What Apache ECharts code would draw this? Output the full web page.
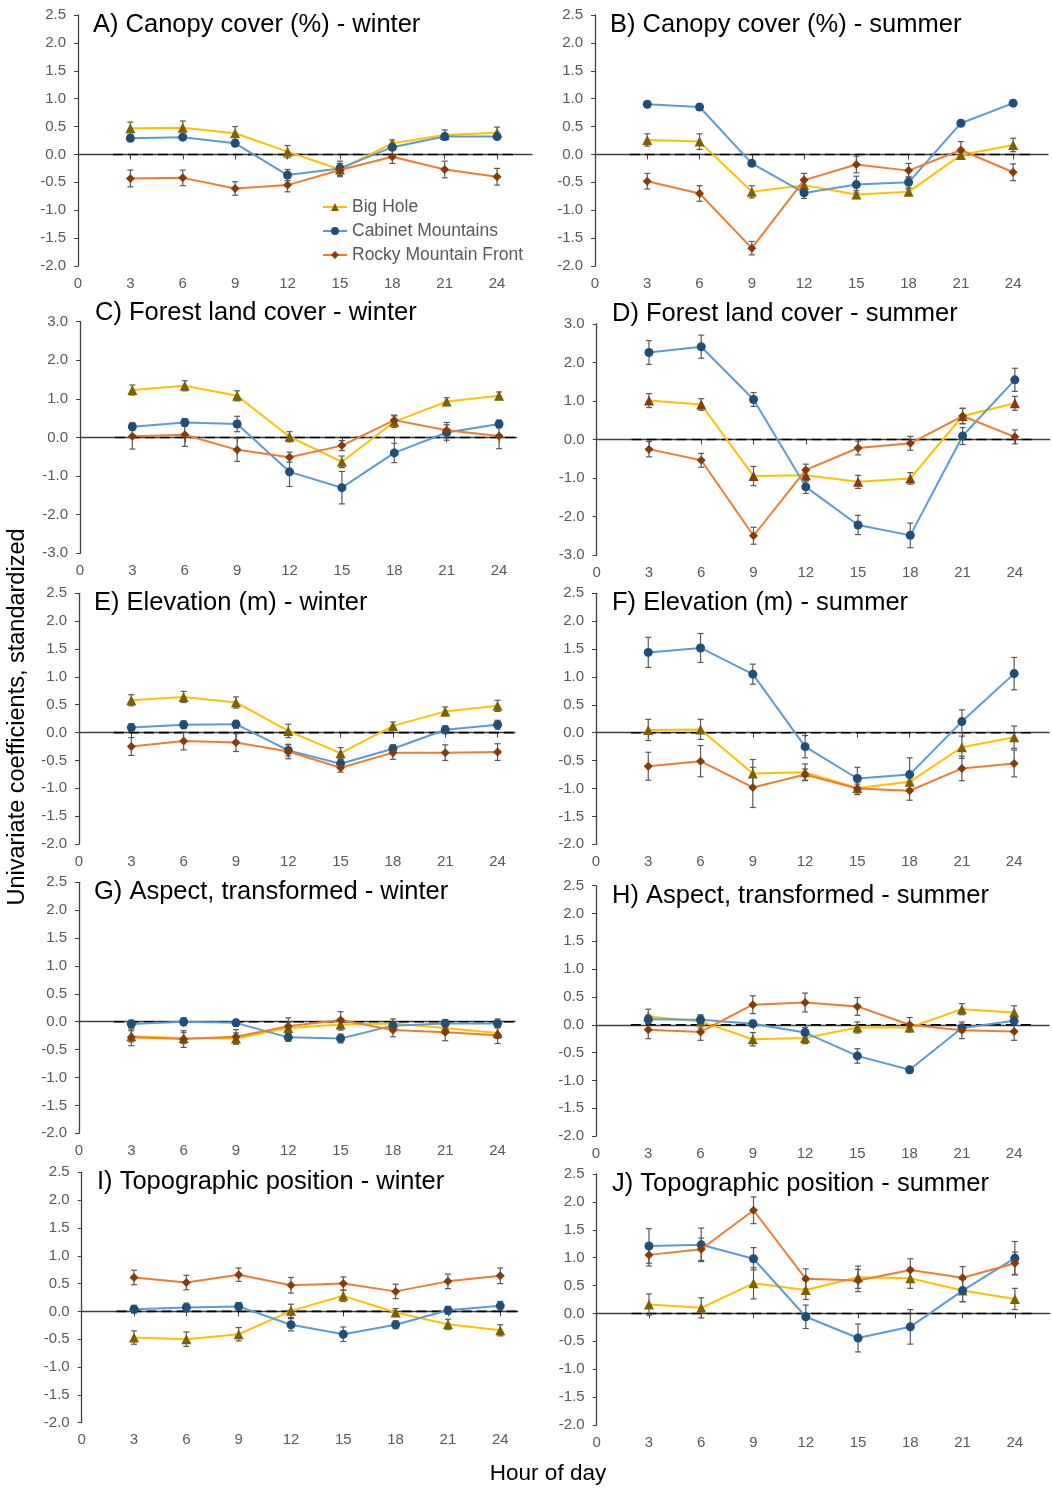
<!DOCTYPE html>
<html><head><meta charset="utf-8">
<script src="https://cdn.jsdelivr.net/npm/echarts@6/dist/echarts.min.js"></script>
<style>html,body{margin:0;padding:0;background:#fff}#c{width:1052px;height:1490px}</style>
</head><body><div id="c"></div>
<script>
// ---------- DATA ----------
const hours = [3, 6, 9, 12, 15, 18, 21, 24];
const xTickValues = [0, 3, 6, 9, 12, 15, 18, 21, 24];
const seriesNames = ['Big Hole', 'Cabinet Mountains', 'Rocky Mountain Front'];
const zeroLineFrom = 2, zeroLineTo = 25;

const A_bigHole = [0.47, 0.48, 0.38, 0.05, -0.27, 0.20, 0.35, 0.39];
const A_bigHoleErr = [0.11, 0.12, 0.12, 0.11, 0.10, 0.06, 0.09, 0.10];
const A_cabinet = [0.29, 0.31, 0.20, -0.37, -0.25, 0.13, 0.32, 0.32];
const A_cabinetErr = [0.05, 0.05, 0.05, 0.10, 0.13, 0.05, 0.05, 0.05];
const A_rocky = [-0.43, -0.42, -0.61, -0.55, -0.28, -0.04, -0.27, -0.40];
const A_rockyErr = [0.15, 0.14, 0.12, 0.12, 0.12, 0.12, 0.15, 0.15];

const B_bigHole = [0.26, 0.23, -0.67, -0.55, -0.72, -0.67, -0.01, 0.17];
const B_bigHoleErr = [0.11, 0.14, 0.11, 0.08, 0.07, 0.05, 0.05, 0.12];
const B_cabinet = [0.90, 0.85, -0.16, -0.69, -0.54, -0.50, 0.56, 0.92];
const B_cabinetErr = [0.05, 0.05, 0.05, 0.10, 0.15, 0.10, 0.05, 0.05];
const B_rocky = [-0.48, -0.70, -1.68, -0.46, -0.18, -0.29, 0.08, -0.32];
const B_rockyErr = [0.14, 0.14, 0.12, 0.12, 0.15, 0.13, 0.15, 0.15];

const C_bigHole = [1.23, 1.34, 1.08, 0.02, -0.63, 0.41, 0.93, 1.08];
const C_bigHoleErr = [0.13, 0.13, 0.13, 0.13, 0.15, 0.15, 0.10, 0.10];
const C_cabinet = [0.28, 0.39, 0.35, -0.89, -1.30, -0.40, 0.13, 0.35];
const C_cabinetErr = [0.10, 0.10, 0.20, 0.38, 0.42, 0.25, 0.20, 0.10];
const C_rocky = [0.03, 0.07, -0.32, -0.51, -0.21, 0.45, 0.19, 0.04];
const C_rockyErr = [0.33, 0.30, 0.30, 0.13, 0.13, 0.13, 0.20, 0.33];

const D_bigHole = [1.01, 0.91, -0.95, -0.93, -1.10, -1.01, 0.61, 0.94];
const D_bigHoleErr = [0.18, 0.15, 0.25, 0.15, 0.17, 0.15, 0.20, 0.18];
const D_cabinet = [2.26, 2.41, 1.04, -1.23, -2.22, -2.49, 0.09, 1.55];
const D_cabinetErr = [0.31, 0.30, 0.18, 0.17, 0.25, 0.32, 0.22, 0.30];
const D_rocky = [-0.25, -0.54, -2.50, -0.79, -0.22, -0.10, 0.61, 0.07];
const D_rockyErr = [0.20, 0.18, 0.22, 0.15, 0.18, 0.18, 0.20, 0.18];

const E_bigHole = [0.58, 0.64, 0.54, 0.03, -0.37, 0.12, 0.38, 0.48];
const E_bigHoleErr = [0.10, 0.10, 0.10, 0.12, 0.10, 0.07, 0.08, 0.10];
const E_cabinet = [0.09, 0.14, 0.15, -0.32, -0.56, -0.29, 0.05, 0.14];
const E_cabinetErr = [0.07, 0.07, 0.07, 0.10, 0.08, 0.07, 0.07, 0.08];
const E_rocky = [-0.25, -0.15, -0.18, -0.34, -0.63, -0.36, -0.36, -0.35];
const E_rockyErr = [0.16, 0.16, 0.16, 0.13, 0.08, 0.12, 0.14, 0.15];

const F_bigHole = [0.05, 0.06, -0.73, -0.71, -0.99, -0.88, -0.26, -0.08];
const F_bigHoleErr = [0.19, 0.18, 0.25, 0.15, 0.12, 0.12, 0.20, 0.20];
const F_cabinet = [1.44, 1.52, 1.05, -0.25, -0.82, -0.75, 0.20, 1.06];
const F_cabinetErr = [0.27, 0.26, 0.18, 0.20, 0.20, 0.30, 0.21, 0.29];
const F_rocky = [-0.60, -0.51, -0.98, -0.75, -1.00, -1.04, -0.64, -0.55];
const F_rockyErr = [0.25, 0.28, 0.36, 0.10, 0.08, 0.17, 0.22, 0.24];

const G_bigHole = [-0.26, -0.29, -0.30, -0.11, -0.05, -0.03, -0.11, -0.20];
const G_bigHoleErr = [0.10, 0.10, 0.10, 0.10, 0.10, 0.08, 0.10, 0.10];
const G_cabinet = [-0.04, 0.00, -0.02, -0.28, -0.30, -0.07, -0.03, -0.03];
const G_cabinetErr = [0.07, 0.07, 0.06, 0.07, 0.08, 0.06, 0.07, 0.08];
const G_rocky = [-0.28, -0.31, -0.27, -0.08, 0.03, -0.15, -0.19, -0.24];
const G_rockyErr = [0.15, 0.15, 0.13, 0.15, 0.15, 0.12, 0.15, 0.15];

const H_bigHole = [0.15, 0.06, -0.26, -0.24, -0.05, -0.05, 0.28, 0.22];
const H_bigHoleErr = [0.13, 0.12, 0.12, 0.10, 0.10, 0.07, 0.10, 0.12];
const H_cabinet = [0.10, 0.09, 0.02, -0.14, -0.56, -0.81, -0.06, 0.07];
const H_cabinetErr = [0.07, 0.07, 0.06, 0.09, 0.13, 0.06, 0.07, 0.06];
const H_rocky = [-0.09, -0.13, 0.36, 0.40, 0.33, 0.00, -0.10, -0.12];
const H_rockyErr = [0.16, 0.15, 0.16, 0.17, 0.16, 0.13, 0.15, 0.16];

const I_bigHole = [-0.47, -0.50, -0.41, 0.01, 0.28, -0.02, -0.23, -0.34];
const I_bigHoleErr = [0.12, 0.13, 0.12, 0.12, 0.10, 0.07, 0.09, 0.10];
const I_cabinet = [0.04, 0.07, 0.09, -0.24, -0.41, -0.24, 0.02, 0.10];
const I_cabinetErr = [0.07, 0.08, 0.07, 0.11, 0.13, 0.07, 0.07, 0.08];
const I_rocky = [0.61, 0.52, 0.66, 0.47, 0.50, 0.36, 0.54, 0.64];
const I_rockyErr = [0.13, 0.13, 0.12, 0.14, 0.12, 0.13, 0.13, 0.14];

const J_bigHole = [0.16, 0.10, 0.54, 0.42, 0.65, 0.63, 0.41, 0.26];
const J_bigHoleErr = [0.19, 0.18, 0.28, 0.17, 0.20, 0.18, 0.20, 0.19];
const J_cabinet = [1.21, 1.23, 0.98, -0.06, -0.44, -0.24, 0.41, 0.99];
const J_cabinetErr = [0.31, 0.30, 0.20, 0.21, 0.25, 0.31, 0.20, 0.30];
const J_rocky = [1.05, 1.15, 1.85, 0.62, 0.59, 0.78, 0.64, 0.90];
const J_rockyErr = [0.20, 0.20, 0.24, 0.18, 0.20, 0.20, 0.20, 0.20];

// ---------- LAYOUT / STYLE ----------
const panels = [
  {title: 'A) Canopy cover (%) - winter', g: [78, 15, 454, 251], y: [-2, 2.5, 0.5], xMax: 26, t: [93, 25],
   d: [[A_bigHole, A_bigHoleErr], [A_cabinet, A_cabinetErr], [A_rocky, A_rockyErr]]},
  {title: 'B) Canopy cover (%) - summer', g: [595, 15, 453, 251], y: [-2, 2.5, 0.5], xMax: 26, t: [610, 25],
   d: [[B_bigHole, B_bigHoleErr], [B_cabinet, B_cabinetErr], [B_rocky, B_rockyErr]]},
  {title: 'C) Forest land cover - winter', g: [80, 321.7, 436.5, 231.6], y: [-3, 3, 1], xMax: 25, t: [95, 312.5],
   d: [[C_bigHole, C_bigHoleErr], [C_cabinet, C_cabinetErr], [C_rocky, C_rockyErr]]},
  {title: 'D) Forest land cover - summer', g: [596.7, 324, 453, 231], y: [-3, 3, 1], xMax: 26, t: [612, 314],
   d: [[D_bigHole, D_bigHoleErr], [D_cabinet, D_cabinetErr], [D_rocky, D_rockyErr]], bhMarker: '#843C0C'},
  {title: 'E) Elevation (m) - winter', g: [79, 593.3, 436, 250.7], y: [-2, 2.5, 0.5], xMax: 25, t: [94, 602.5],
   d: [[E_bigHole, E_bigHoleErr], [E_cabinet, E_cabinetErr], [E_rocky, E_rockyErr]]},
  {title: 'F) Elevation (m) - summer', g: [596, 593.3, 453, 251], y: [-2, 2.5, 0.5], xMax: 26, t: [612, 602.5],
   d: [[F_bigHole, F_bigHoleErr], [F_cabinet, F_cabinetErr], [F_rocky, F_rockyErr]]},
  {title: 'G) Aspect, transformed - winter', g: [79, 882.3, 436, 251], y: [-2, 2.5, 0.5], xMax: 25, t: [94, 891.5],
   d: [[G_bigHole, G_bigHoleErr], [G_cabinet, G_cabinetErr], [G_rocky, G_rockyErr]]},
  {title: 'H) Aspect, transformed - summer', g: [596, 885.7, 453, 250.3], y: [-2, 2.5, 0.5], xMax: 26, t: [612, 895.5],
   d: [[H_bigHole, H_bigHoleErr], [H_cabinet, H_cabinetErr], [H_rocky, H_rockyErr]]},
  {title: 'I) Topographic position - winter', g: [81.7, 1172.3, 436, 250.4], y: [-2, 2.5, 0.5], xMax: 25, t: [97, 1181.5],
   d: [[I_bigHole, I_bigHoleErr], [I_cabinet, I_cabinetErr], [I_rocky, I_rockyErr]]},
  {title: 'J) Topographic position - summer', g: [596.7, 1174, 453, 251], y: [-2, 2.5, 0.5], xMax: 26, t: [612, 1184],
   d: [[J_bigHole, J_bigHoleErr], [J_cabinet, J_cabinetErr], [J_rocky, J_rockyErr]]}
];

const styles = [
  {line: '#FFC000', marker: '#7F6000', symbol: 'triangle', size: 10},
  {line: '#5B9BD5', marker: '#1F4E79', symbol: 'circle', size: 9},
  {line: '#ED7D31', marker: '#843C0C', symbol: 'diamond', size: 9}
];

const FONT = '"Liberation Sans", Arial, sans-serif';
const axisColor = '#404040';
const labelColor = '#595959';

function renderErr(params, api) {
  const x = api.value(0), lo = api.value(1), hi = api.value(2);
  const p1 = api.coord([x, hi]), p2 = api.coord([x, lo]);
  const cap = 3;
  const st = {stroke: '#595959', lineWidth: 1.2};
  return {type: 'group', children: [
    {type: 'line', shape: {x1: p1[0], y1: p1[1], x2: p2[0], y2: p2[1]}, style: st},
    {type: 'line', shape: {x1: p1[0] - cap, y1: p1[1], x2: p1[0] + cap, y2: p1[1]}, style: st},
    {type: 'line', shape: {x1: p2[0] - cap, y1: p2[1], x2: p2[0] + cap, y2: p2[1]}, style: st}
  ]};
}

const grid = [], xAxis = [], yAxis = [], series = [], graphic = [];
panels.forEach((p, i) => {
  grid.push({left: p.g[0], top: p.g[1], width: p.g[2], height: p.g[3]});
  xAxis.push({
    gridIndex: i, type: 'value', min: 0, max: p.xMax, interval: 3,
    axisLine: {show: true, lineStyle: {color: axisColor, width: 1.3}},
    axisTick: {show: true, length: 5, lineStyle: {color: axisColor}, customValues: xTickValues},
    axisLabel: {color: labelColor, fontSize: 15, fontFamily: FONT, margin: 10, customValues: xTickValues},
    splitLine: {show: false}
  });
  yAxis.push({
    gridIndex: i, type: 'value', min: p.y[0], max: p.y[1], interval: p.y[2],
    axisLine: {show: true, lineStyle: {color: axisColor, width: 1.3}},
    axisTick: {show: true, length: 4, lineStyle: {color: axisColor}},
    axisLabel: {color: labelColor, fontSize: 15, fontFamily: FONT, margin: 12, formatter: v => v.toFixed(1)},
    splitLine: {show: false}
  });
  // dashed zero reference line
  series.push({
    type: 'line', xAxisIndex: i, yAxisIndex: i, data: [[zeroLineFrom, 0], [zeroLineTo, 0]],
    symbol: 'none', silent: true, z: 1,
    lineStyle: {color: '#000', width: 1.6, type: [10, 5]}
  });
  p.d.forEach((pair, k) => {
    const vals = pair[0], errs = pair[1];
    const s = styles[k];
    const mk = (k === 0 && p.bhMarker) ? p.bhMarker : s.marker;
    series.push({
      type: 'custom', xAxisIndex: i, yAxisIndex: i, renderItem: renderErr, silent: true, z: 2,
      encode: {x: 0, y: [1, 2]},
      data: hours.map((h, j) => [h, vals[j] - errs[j], vals[j] + errs[j]])
    });
    series.push({
      name: seriesNames[k], type: 'line', xAxisIndex: i, yAxisIndex: i, z: 3 + k,
      data: hours.map((h, j) => [h, vals[j]]),
      symbol: s.symbol, symbolSize: s.size, showAllSymbol: true,
      lineStyle: {color: s.line, width: 2},
      itemStyle: {color: mk, borderWidth: 0}
    });
  });
  graphic.push({
    type: 'text', x: p.t[0], y: p.t[1], silent: true,
    style: {text: p.title, font: '25.5px ' + FONT, fill: '#000', align: 'left', verticalAlign: 'middle'}
  });
});

graphic.push({
  type: 'text', x: 18, y: 717, rotation: Math.PI / 2, silent: true,
  style: {text: 'Univariate coefficients, standardized', font: '23.5px ' + FONT, fill: '#000', align: 'center', verticalAlign: 'middle'}
});
graphic.push({
  type: 'text', x: 548, y: 1474, silent: true,
  style: {text: 'Hour of day', font: '22.5px ' + FONT, fill: '#000', align: 'center', verticalAlign: 'middle'}
});

const chart = echarts.init(document.getElementById('c'), null, {renderer: 'canvas'});
chart.setOption({
  animation: false,
  backgroundColor: '#fff',
  grid, xAxis, yAxis, series, graphic,
  legend: {
    data: seriesNames, orient: 'vertical', left: 322, top: 198, padding: 0,
    itemWidth: 24, itemHeight: 10, itemGap: 6, selectedMode: false,
    textStyle: {color: labelColor, fontSize: 17.5, fontFamily: FONT, lineHeight: 18}
  }
});
</script></body></html>
